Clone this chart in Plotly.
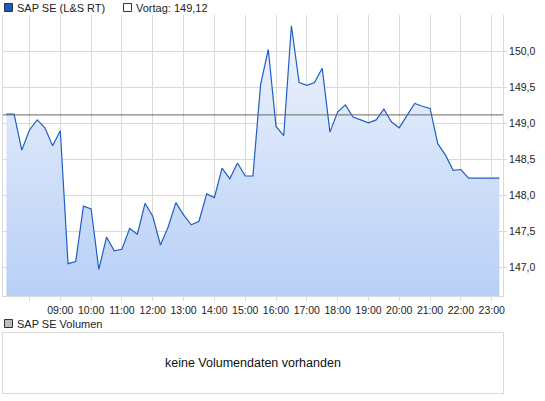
import plotly.graph_objects as go

# ---- data ----
times = ["07:15", "07:30", "07:45", "08:00", "08:15", "08:30", "08:45",
         "09:00", "09:15", "09:30", "09:45", "10:00", "10:15", "10:30", "10:45",
         "11:00", "11:15", "11:30", "11:45", "12:00", "12:15", "12:30", "12:45",
         "13:00", "13:15", "13:30", "13:45", "14:00", "14:15", "14:30", "14:45",
         "15:00", "15:15", "15:30", "15:45", "16:00", "16:15", "16:30", "16:45",
         "17:00", "17:15", "17:30", "17:45", "18:00", "18:15", "18:30", "18:45",
         "19:00", "19:15", "19:30", "19:45", "20:00", "20:15", "20:30", "20:45",
         "21:00", "21:15", "21:30", "21:45", "22:00", "22:15", "22:30", "22:45",
         "23:00", "23:15"]
prices = [149.13, 149.13, 148.63, 148.91, 149.05, 148.94, 148.69,
          148.90, 147.05, 147.08, 147.85, 147.81, 146.97, 147.42, 147.23,
          147.25, 147.54, 147.46, 147.89, 147.71, 147.31, 147.56, 147.90,
          147.73, 147.59, 147.64, 148.02, 147.97, 148.38, 148.23, 148.45,
          148.27, 148.27, 149.54, 150.03, 148.96, 148.83, 150.36, 149.57,
          149.53, 149.57, 149.77, 148.88, 149.16, 149.26, 149.09, 149.05,
          149.01, 149.05, 149.20, 149.02, 148.94, 149.11, 149.28, 149.24,
          149.21, 148.72, 148.56, 148.35, 148.36, 148.24, 148.24, 148.24,
          148.24, 148.24]
vortag = 149.12
y_ticks = [147.0, 147.5, 148.0, 148.5, 149.0, 149.5, 150.0]
x_ticks = ["08:00", "09:00", "10:00", "11:00", "12:00", "13:00", "14:00", "15:00",
           "16:00", "17:00", "18:00", "19:00", "20:00", "21:00", "22:00", "23:00"]
x_tick_labels = [""] + x_ticks[1:]
series_name = "SAP SE (L&S RT)"
vortag_label = "Vortag: 149,12"
volume_name = "SAP SE Volumen"
volume_text = "keine Volumendaten vorhanden"

day = "2024-01-01 "
xs = [day + t for t in times]

FONT = "Liberation Sans, Arial, sans-serif"
GRID = "#dadada"
LINE = "#1f5fc4"

fig = go.Figure()
fig.add_trace(go.Scatter(
    x=xs, y=prices, mode="lines",
    line=dict(color=LINE, width=1.2),
    fill="tozeroy",
    fillgradient=dict(type="vertical",
                      colorscale=[[0, "#b8cff6"], [1, "#f0f5fd"]],
                      start=146.6, stop=150.5),
    hoverinfo="skip", showlegend=False,
    xaxis="x", yaxis="y",
))

# empty volume panel axes
fig.add_trace(go.Scatter(x=[0], y=[0], mode="markers", marker=dict(opacity=0),
                         showlegend=False, hoverinfo="skip", xaxis="x2", yaxis="y2"))

fig.update_layout(
    width=545, height=401,
    margin=dict(l=3, r=42, t=15, b=8),
    paper_bgcolor="white", plot_bgcolor="white",
    separators=",.",
    font=dict(family=FONT, size=10.5, color="#222"),
    xaxis=dict(
        type="date", domain=[0, 1],
        range=[day + "07:08:24", day + "23:22:00"],
        tickvals=[day + t for t in x_ticks], ticktext=x_tick_labels,
        showgrid=True, gridcolor=GRID, gridwidth=1,
        showline=True, linecolor=GRID, linewidth=1,
        ticks="outside", ticklen=4, tickcolor=GRID,
        zeroline=False, anchor="y", automargin=False,
        tickfont=dict(size=10.5, color="#222"),
    ),
    yaxis=dict(
        domain=[0.2566, 1], side="right",
        range=[146.60, 150.51],
        tickvals=y_ticks, tickformat=".1f",
        showgrid=True, gridcolor=GRID, gridwidth=1,
        showline=True, mirror=True, linecolor=GRID, linewidth=1,
        ticks="outside", ticklen=3, tickcolor=GRID,
        zeroline=False, anchor="x", automargin=False,
        tickfont=dict(size=10.5, color="#222"),
    ),
    xaxis2=dict(domain=[0, 1], anchor="y2", showgrid=False, zeroline=False,
                showticklabels=False, ticks="", showline=True, mirror=True,
                linecolor=GRID, linewidth=1, range=[0, 1]),
    yaxis2=dict(domain=[0, 0.1587], anchor="x2", showgrid=False, zeroline=False,
                showticklabels=False, ticks="", showline=True, mirror=True,
                linecolor=GRID, linewidth=1, range=[0, 1]),
)

# Vortag reference line
fig.add_shape(type="line", xref="paper", yref="y", x0=0, x1=1, y0=vortag, y1=vortag,
              line=dict(color="#666666", width=1))

# legend-like header
def px_y(py):
    return (393 - py) / 378.0

def px_x(px):
    return (px - 3) / 500.0

fig.add_shape(type="rect", xref="paper", yref="paper",
              x0=px_x(4.5), x1=px_x(12.5), y0=px_y(11.5), y1=px_y(3.5),
              fillcolor="#1a5cc6", line=dict(color="#333", width=1))
fig.add_annotation(xref="paper", yref="paper", x=px_x(15), y=px_y(7.5),
                   text=series_name, showarrow=False, xanchor="left", yanchor="middle",
                   font=dict(size=11, color="#222"))
fig.add_shape(type="rect", xref="paper", yref="paper",
              x0=px_x(123.5), x1=px_x(131.5), y0=px_y(11.5), y1=px_y(3.5),
              fillcolor="white", line=dict(color="#333", width=1))
fig.add_annotation(xref="paper", yref="paper", x=px_x(134), y=px_y(7.5),
                   text=vortag_label, showarrow=False, xanchor="left", yanchor="middle",
                   font=dict(size=11, color="#222"))

fig.add_shape(type="rect", xref="paper", yref="paper",
              x0=px_x(4.5), x1=px_x(12.5), y0=px_y(327.5), y1=px_y(319.5),
              fillcolor="#bdbdbd", line=dict(color="#333", width=1))
fig.add_annotation(xref="paper", yref="paper", x=px_x(15), y=px_y(323.5),
                   text=volume_name, showarrow=False, xanchor="left", yanchor="middle",
                   font=dict(size=11, color="#222"))

fig.add_annotation(xref="paper", yref="paper", x=0.5, y=0.0794,
                   text=volume_text, showarrow=False, xanchor="center", yanchor="middle",
                   font=dict(size=12.5, color="#111"))

fig.write_html(
    "out.html",
    config={"displayModeBar": False},
    post_script="document.body.style.margin='0';document.body.style.padding='0';",
)
